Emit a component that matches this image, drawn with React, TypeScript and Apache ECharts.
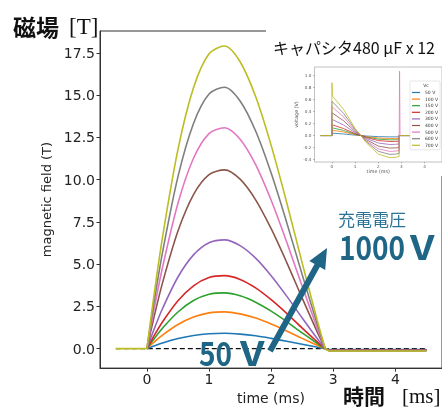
import React, { useEffect, useRef } from 'react';
import * as echarts from 'echarts';

const COLORS = ['#1f77b4', '#ff7f0e', '#2ca02c', '#d62728', '#9467bd', '#8c564b', '#e377c2', '#7f7f7f', '#bcbd22'];

// main chart: magnetic field (T) vs time (ms)
const fieldTime = [0, 0.1, 0.25, 0.5, 0.75, 1.0, 1.25, 1.5, 1.75, 2.0, 2.25, 2.5, 2.75, 2.87];
const field1 = [0, 0.14, 0.33, 0.6, 0.78, 0.88, 0.91, 0.86, 0.76, 0.61, 0.44, 0.26, 0.08, 0];
const field2 = [0, 0.34, 0.8, 1.43, 1.87, 2.12, 2.18, 2.06, 1.81, 1.46, 1.05, 0.61, 0.19, 0];
const field3 = [0, 0.51, 1.21, 2.17, 2.85, 3.22, 3.3, 3.13, 2.75, 2.22, 1.6, 0.93, 0.29, 0];
const field4 = [0, 0.67, 1.58, 2.84, 3.72, 4.21, 4.32, 4.1, 3.6, 2.9, 2.09, 1.22, 0.38, 0];
const field5 = [0, 1.0, 2.36, 4.24, 5.55, 6.27, 6.44, 6.1, 5.36, 4.32, 3.11, 1.82, 0.56, 0];
const field6 = [0, 1.64, 3.88, 6.96, 9.12, 10.3, 10.58, 10.03, 8.81, 7.1, 5.11, 2.99, 0.92, 0];
const field7 = [0, 2.03, 4.79, 8.61, 11.27, 12.73, 13.07, 12.39, 10.89, 8.78, 6.31, 3.69, 1.14, 0];
const field8 = [0, 2.4, 5.67, 10.18, 13.33, 15.07, 15.47, 14.66, 12.88, 10.39, 7.47, 4.37, 1.35, 0];
const field9 = [0, 2.78, 6.57, 11.79, 15.44, 17.45, 17.91, 16.98, 14.92, 12.03, 8.65, 5.06, 1.56, 0];
const fields = [field1, field2, field3, field4, field5, field6, field7, field8, field9];
const tailTime = [2.87, 2.93, 4.5];
const tailLevel = [-0.05, -0.06, -0.07, -0.08, -0.1, -0.1, -0.11, -0.12, -0.14];
const preTime = [-0.5, 0];
const preValue = [0, 0];
const zeroTime = [-0.5, 4.5];
const zeroValue = [0, 0];
const xTicks = [0, 1, 2, 3, 4];
const yTicks = [0, 2.5, 5, 7.5, 10, 12.5, 15, 17.5];

// inset: capacitor voltage (V) vs time (ms)
const voltLegend = ['50 V', '100 V', '150 V', '200 V', '300 V', '400 V', '500 V', '600 V', '700 V'];
const voltTime = [-0.5, 0, 0, 0.5, 1.0, 1.25, 1.5, 2.0, 2.5, 2.75, 2.9, 2.9, 4.5];
const volt1 = [0, 0, 0.04, 0.026, 0.007, 0, -0.008, -0.018, -0.022, -0.022, -0.021, 0, 0];
const volt2 = [0, 0, 0.09, 0.059, 0.016, 0, -0.017, -0.041, -0.05, -0.049, -0.047, 0, 0];
const volt3 = [0, 0, 0.13, 0.085, 0.023, 0, -0.025, -0.06, -0.072, -0.07, -0.068, 0, 0];
const volt4 = [0, 0, 0.18, 0.117, 0.032, 0, -0.034, -0.083, -0.099, -0.097, -0.094, 0, 0];
const volt5 = [0, 0, 0.27, 0.176, 0.049, 0, -0.051, -0.124, -0.149, -0.146, -0.14, 0, 0];
const volt6 = [0, 0, 0.38, 0.247, 0.068, 0, -0.072, -0.175, -0.209, -0.205, -0.198, 0, 0];
const volt7 = [0, 0, 0.48, 0.312, 0.086, 0, -0.091, -0.221, -0.264, -0.259, -0.25, 0, 0];
const volt8 = [0, 0, 0.57, 0.371, 0.103, 0, -0.108, -0.262, -0.314, -0.308, -0.296, 0, 0];
const volt9 = [0, 0, 0.67, 0.436, 0.121, 0, -0.127, -0.308, -0.369, -0.362, -0.348, 0, 0];
const volts = [volt1, volt2, volt3, volt4, volt5, volt6, volt7, volt8, volt9];
const spikeStartTime = [0, 0, 0.03];
const spikeStartValue = [0.67, 0.88, 0.67];
const spikeEndTime = [2.9, 2.92, 2.94];
const spikeEndValue = [-0.25, 1.07, 0];
const vxTicks = [0, 1, 2, 3, 4];
const vyTicks = [-0.4, -0.2, 0, 0.2, 0.4, 0.6, 0.8, 1.0];

const TEAL = '#1f6585';
const pair = (xs: number[], ys: number[]) => xs.map((x, i) => [x, ys[i]]);

export default function App() {
  const ref = useRef<HTMLDivElement>(null);
  useEffect(() => {
    if (!ref.current) return;
    const chart = echarts.init(ref.current, undefined, { renderer: 'svg' });
    const series: any[] = [];
    series.push({
      type: 'line', name: 'zero', xAxisIndex: 0, yAxisIndex: 0, data: pair(zeroTime, zeroValue),
      symbol: 'none', silent: true, z: 2,
      lineStyle: { color: '#111', width: 1.2, type: [5, 3] },
    });
    fields.forEach((f, i) => {
      series.push({
        type: 'line', name: 'field' + i, xAxisIndex: 0, yAxisIndex: 0, data: pair(fieldTime, f),
        smooth: 0.3, symbol: 'none', silent: true, z: 2,
        lineStyle: { color: COLORS[i], width: 1.6 }, itemStyle: { color: COLORS[i] },
      });
    });
    tailLevel.forEach((lv, i) => {
      series.push({
        type: 'line', name: 'tail' + i, xAxisIndex: 0, yAxisIndex: 0, data: pair(tailTime, [0, lv, lv]),
        symbol: 'none', silent: true, z: 2,
        lineStyle: { color: COLORS[i], width: 1.6 },
      });
    });
    series.push({
      type: 'line', name: 'pre', xAxisIndex: 0, yAxisIndex: 0, data: pair(preTime, preValue),
      symbol: 'none', silent: true, z: 2, lineStyle: { color: COLORS[8], width: 1.6 },
    });
    volts.forEach((v, i) => {
      series.push({
        type: 'line', name: voltLegend[i], xAxisIndex: 1, yAxisIndex: 1, data: pair(voltTime, v),
        symbol: 'none', silent: true, z: 6,
        lineStyle: { color: COLORS[i], width: 0.8 }, itemStyle: { color: COLORS[i] },
      });
    });
    series.push({
      type: 'line', name: 'spikeA', xAxisIndex: 1, yAxisIndex: 1, data: pair(spikeStartTime, spikeStartValue),
      symbol: 'none', silent: true, z: 6, lineStyle: { color: COLORS[8], width: 0.8 },
    });
    series.push({
      type: 'line', name: 'spikeB', xAxisIndex: 1, yAxisIndex: 1, data: pair(spikeEndTime, spikeEndValue),
      symbol: 'none', silent: true, z: 6, lineStyle: { color: COLORS[6], width: 0.8 },
    });

    const txt = (x: number, y: number, text: string, font: string, fill: string, extra: any = {}) => {
      const va = extra.valign || 'middle';
      return {
        type: 'text', x, y, z: 20, scaleX: extra.scaleX || 1,
        style: { text, font, fill, textVerticalAlign: va, verticalAlign: va, textAlign: extra.align || 'left', align: extra.align || 'left' },
      };
    };

    const option: any = {
      animation: false,
      grid: [
        { left: 100, top: 31, width: 350, height: 341, show: true, borderColor: '#333', borderWidth: 1, z: 0 },
        { left: 314.5, top: 67, width: 128, height: 95, show: true, borderColor: '#999', borderWidth: 0.6, backgroundColor: 'transparent', z: 5 },
      ],
      xAxis: [
        {
          gridIndex: 0, type: 'value', min: -0.755, max: 4.75,
          axisLine: { show: true, onZero: false, lineStyle: { color: '#333', width: 1 } },
          axisTick: { show: true, length: 3.5, lineStyle: { color: '#333' }, customValues: xTicks },
          axisLabel: { customValues: xTicks, fontSize: 14, color: '#222', fontFamily: 'DejaVu Sans', margin: 4 },
          splitLine: { show: false },
          name: 'time (ms)', nameLocation: 'middle', nameGap: 20,
          nameTextStyle: { fontSize: 14, color: '#222', fontFamily: 'DejaVu Sans' },
        },
        {
          gridIndex: 1, type: 'value', min: -0.75, max: 4.75, z: 5,
          axisLine: { show: false, onZero: false },
          axisTick: { show: true, length: 1.5, lineStyle: { color: '#777', width: 0.5 }, customValues: vxTicks },
          axisLabel: { customValues: vxTicks, fontSize: 4.2, color: '#555', fontFamily: 'DejaVu Sans', margin: 2 },
          splitLine: { show: false },
          name: 'time (ms)', nameLocation: 'middle', nameGap: 6,
          nameTextStyle: { fontSize: 4.8, color: '#555', fontFamily: 'DejaVu Sans' },
        },
      ],
      yAxis: [
        {
          gridIndex: 0, type: 'value', min: -1.15, max: 18.8,
          axisLine: { show: true, onZero: false, lineStyle: { color: '#333', width: 1 } },
          axisTick: { show: true, length: 3.5, lineStyle: { color: '#333' }, customValues: yTicks },
          axisLabel: {
            customValues: yTicks, fontSize: 14, color: '#222', fontFamily: 'DejaVu Sans', margin: 5,
            formatter: (v: number) => v.toFixed(1),
          },
          splitLine: { show: false },
          name: 'magnetic field (T)', nameLocation: 'middle', nameGap: 45,
          nameTextStyle: { fontSize: 13, color: '#222', fontFamily: 'DejaVu Sans' },
        },
        {
          gridIndex: 1, type: 'value', min: -0.44, max: 1.14, z: 5,
          axisLine: { show: false, onZero: false },
          axisTick: { show: true, length: 1.5, lineStyle: { color: '#777', width: 0.5 }, customValues: vyTicks },
          axisLabel: {
            customValues: vyTicks, fontSize: 4.2, color: '#555', fontFamily: 'DejaVu Sans', margin: 3,
            formatter: (v: number) => v.toFixed(1),
          },
          splitLine: { show: false },
          name: 'voltage (V)', nameLocation: 'middle', nameGap: 14,
          nameTextStyle: { fontSize: 4.8, color: '#555', fontFamily: 'DejaVu Sans' },
        },
      ],
      legend: {
        data: voltLegend, orient: 'vertical', left: 410, top: 81, icon: 'rect',
        itemWidth: 8, itemHeight: 1.2, itemGap: 1.6, padding: [9, 2, 2, 2],
        textStyle: { fontSize: 4.5, color: '#333', fontFamily: 'DejaVu Sans', lineHeight: 4.5 },
        borderColor: '#ccc', borderWidth: 0.5, borderRadius: 1.5, backgroundColor: '#fff',
        z: 8, selectedMode: false,
      },
      series,
      graphic: [
        { type: 'rect', z: 3, shape: { x: 266, y: 20, width: 176, height: 40 }, style: { fill: '#fff' } },
        { type: 'rect', z: 3, shape: { x: 285, y: 58, width: 157, height: 118 }, style: { fill: '#fff' } },
        txt(426, 85, 'Vc', '4.5px "DejaVu Sans"', '#333', { align: 'center' }),
        txt(13, 26, '磁場', 'bold 23px "Noto Sans CJK JP"', '#111'),
        txt(69, 26, '[T]', '23px "Liberation Serif"', '#111'),
        txt(343, 405, '時間', 'bold 21px "Noto Sans CJK JP"', '#111', { valign: 'bottom' }),
        txt(402, 406, '[ms]', '21px "Liberation Serif"', '#111', { valign: 'bottom' }),
        txt(273, 47, 'キャパシタ480 μF x 12', '16px "Noto Sans CJK JP"', '#111'),
        txt(338, 218, '充電電圧', '17px "Noto Sans CJK JP"', '#2b7396'),
        txt(339, 245.5, '1000', 'bold 33px "Noto Sans CJK JP"', TEAL, { scaleX: 0.85 }),
        txt(410, 245.5, 'V', 'bold 33px "Noto Sans CJK JP"', TEAL, { scaleX: 1.2 }),
        txt(199, 351.5, '50', 'bold 33px "Noto Sans CJK JP"', TEAL, { scaleX: 0.85 }),
        txt(240, 351.5, 'V', 'bold 33px "Noto Sans CJK JP"', TEAL, { scaleX: 1.2 }),
        { type: 'line', z: 19, shape: { x1: 270, y1: 351, x2: 318, y2: 264 }, style: { stroke: TEAL, lineWidth: 6 } },
        { type: 'polygon', z: 19, shape: { points: [[327, 248], [325.2, 269.9], [309.4, 261.1]] }, style: { fill: TEAL } },
      ],
    };
    chart.setOption(option);
    return () => chart.dispose();
  }, []);
  return <div ref={ref} style={{ position: 'fixed', left: 0, top: 0, width: 442, height: 410 }} />;
}
